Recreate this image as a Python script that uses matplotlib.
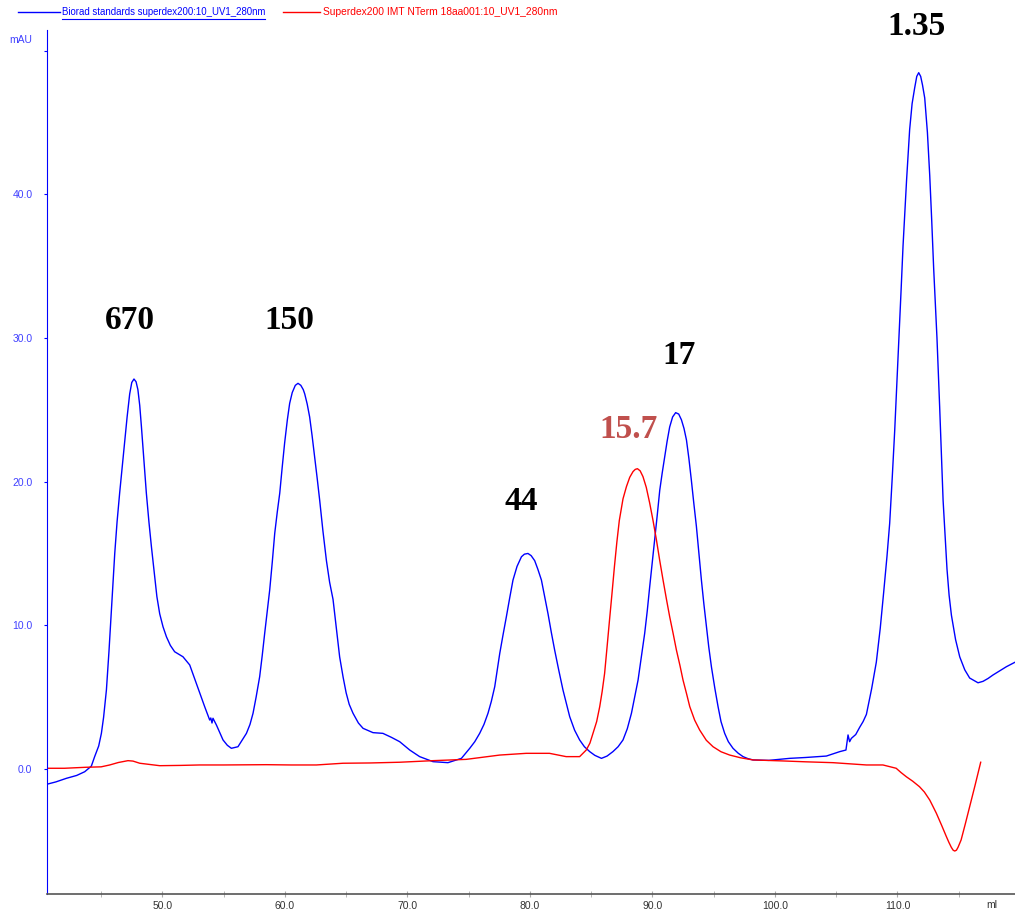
import matplotlib
matplotlib.use("Agg")
import matplotlib.pyplot as plt
from matplotlib.lines import Line2D

# Biorad standards run (blue trace), volume in ml and absorbance in mAU
blue_ml = [40.53, 41.3, 42.16, 43.0, 43.66, 44.2, 44.47, 44.8, 45.02, 45.2, 45.43, 45.64,
           45.84, 46.11, 46.3, 46.51, 46.72, 46.92, 47.12, 47.33, 47.5, 47.68, 47.85, 48.0,
           48.15, 48.29, 48.5, 48.69, 48.9, 49.10, 49.37, 49.55, 49.78, 50.05, 50.33, 50.65,
           51.0, 51.68, 52.23, 52.77, 53.45, 53.86, 53.95, 54.05, 54.13, 54.41, 54.95, 55.3,
           55.63, 56.17, 56.86, 57.15, 57.40, 57.65, 57.94, 58.15, 58.35, 58.55, 58.76, 58.97,
           59.17, 59.38, 59.58, 59.78, 59.98, 60.2, 60.39, 60.6, 60.85, 61.07, 61.3, 61.5,
           61.62, 61.82, 62.02, 62.22, 62.43, 62.64, 62.84, 63.1, 63.39, 63.65, 63.93, 64.2,
           64.47, 64.75, 65.0, 65.25, 65.56, 66.0, 66.38, 67.19, 68.0, 68.7, 69.37, 70.19,
           71.0, 72.09, 73.31, 74.41, 75.09, 75.5, 75.90, 76.25, 76.58, 76.85, 77.13, 77.54,
           77.8, 78.08, 78.35, 78.62, 78.95, 79.31, 79.55, 79.84, 80.1, 80.39, 80.65, 80.94,
           81.2, 81.48, 81.75, 82.02, 82.35, 82.7, 83.0, 83.25, 83.65, 84.06, 84.45, 84.88,
           85.3, 85.84, 86.3, 86.78, 87.2, 87.60, 87.95, 88.29, 88.55, 88.83, 89.1, 89.37,
           89.58, 89.78, 89.98, 90.19, 90.4, 90.6, 90.8, 91.0, 91.2, 91.41, 91.65, 91.9,
           92.15, 92.37, 92.58, 92.78, 92.98, 93.18, 93.38, 93.59, 93.8, 94.0, 94.2, 94.41,
           94.6, 94.82, 95.1, 95.36, 95.6, 95.90, 96.2, 96.58, 97.0, 97.40, 97.8, 98.21,
           99.5, 101.2, 102.5, 104.2, 105.3, 105.8, 105.97, 106.1, 106.24, 106.6, 106.92,
           107.2, 107.47, 107.9, 108.28, 108.6, 108.88, 109.15, 109.37, 109.58, 109.78,
           109.95, 110.13, 110.3, 110.46, 110.75, 111.0, 111.2, 111.41, 111.58, 111.74,
           111.9, 112.05, 112.23, 112.45, 112.64, 112.8, 112.96, 113.1, 113.23, 113.45,
           113.6, 113.73, 113.9, 114.05, 114.22, 114.41, 114.75, 115.09, 115.5, 115.9,
           116.58, 116.99, 117.4, 117.8, 118.9, 119.6]
blue_mau = [-1.07, -0.9, -0.65, -0.45, -0.19, 0.2, 0.86, 1.6, 2.48, 3.6, 5.5, 8.2,
            11.06, 15.0, 17.2, 19.2, 21.0, 22.7, 24.5, 26.1, 26.9, 27.14, 26.95, 26.4,
            25.3, 23.8, 21.4, 19.2, 17.2, 15.5, 13.4, 12.0, 10.8, 9.9, 9.2, 8.6,
            8.16, 7.81, 7.24, 5.96, 4.34, 3.41, 3.55, 3.2, 3.53, 3.06, 2.02, 1.65,
            1.44, 1.55, 2.48, 3.1, 3.88, 5.0, 6.42, 7.9, 9.44, 10.9, 12.46, 14.4,
            16.4, 17.9, 19.2, 21.0, 22.7, 24.3, 25.45, 26.2, 26.7, 26.84, 26.7, 26.4,
            26.1, 25.4, 24.5, 23.2, 21.7, 20.2, 18.7, 16.6, 14.5, 13.0, 11.8, 9.8,
            7.8, 6.4, 5.3, 4.5, 3.88, 3.2, 2.83, 2.53, 2.48, 2.2, 1.90, 1.32,
            0.86, 0.51, 0.44, 0.74, 1.44, 1.9, 2.48, 3.1, 3.88, 4.7, 5.73, 8.05,
            9.3, 10.6, 11.9, 13.15, 14.1, 14.77, 14.95, 15.0, 14.85, 14.5, 13.9, 13.15,
            12.0, 10.8, 9.5, 8.28, 6.9, 5.50, 4.5, 3.64, 2.7, 2.02, 1.55, 1.21,
            0.95, 0.74, 0.9, 1.21, 1.55, 2.02, 2.8, 3.88, 5.0, 6.19, 7.8, 9.44,
            11.0, 12.69, 14.3, 15.94, 17.7, 19.4, 20.6, 21.7, 22.8, 23.8, 24.5, 24.8,
            24.7, 24.3, 23.7, 22.9, 21.6, 20.1, 18.5, 16.9, 15.0, 13.15, 11.5, 9.9,
            8.5, 7.1, 5.6, 4.34, 3.3, 2.48, 1.9, 1.44, 1.1, 0.86, 0.72, 0.63,
            0.6, 0.74, 0.8, 0.90, 1.21, 1.32, 2.37, 1.9, 2.13, 2.4, 2.9,
            3.3, 3.8, 5.6, 7.44, 9.8, 12.3, 14.8, 17.1, 20.3, 23.55,
            26.7, 30.0, 33.3, 36.4, 41.0, 44.5, 46.3, 47.4, 48.2, 48.46,
            48.2, 47.6, 46.7, 44.3, 41.3, 38.2, 34.85, 32.3, 30.0, 25.2,
            21.7, 18.7, 16.1, 13.9, 12.1, 10.7, 9.0, 7.8, 6.9, 6.33,
            6.0, 6.1, 6.3, 6.54, 7.12, 7.43]

# Superdex200 IMT NTerm run (red trace)
red_ml = [40.53, 42.0, 43.77, 45.0, 45.7, 46.4, 47.19, 47.6, 48.15, 49.78, 51.5, 53.04,
          55.0, 58.49, 60.5, 62.57, 64.74, 67.0, 69.37, 72.09, 74.8, 77.54, 79.7, 81.6,
          82.96, 84.06, 84.6, 84.9, 85.15, 85.45, 85.7, 85.9, 86.1, 86.3, 86.5, 86.7,
          86.9, 87.1, 87.3, 87.6, 87.88, 88.15, 88.42, 88.6, 88.78, 89.0, 89.23, 89.5,
          89.78, 90.05, 90.33, 90.6, 90.87, 91.15, 91.41, 91.7, 91.96, 92.25, 92.5, 92.8,
          93.05, 93.45, 93.86, 94.4, 94.95, 95.6, 96.31, 97.2, 98.21, 100.66, 102.5,
          104.74, 107.47, 108.82, 109.9, 110.3, 110.73, 111.25, 111.8, 112.2, 112.64,
          112.9, 113.18, 113.6, 114.0, 114.2, 114.4, 114.55, 114.68, 114.82, 114.95,
          115.2, 115.55, 115.9, 116.35, 116.8]
red_mau = [0.05, 0.05, 0.12, 0.15, 0.28, 0.45, 0.58, 0.55, 0.40, 0.23, 0.25, 0.28,
           0.28, 0.30, 0.28, 0.28, 0.40, 0.42, 0.47, 0.58, 0.67, 0.97, 1.09, 1.09,
           0.86, 0.86, 1.32, 1.8, 2.48, 3.3, 4.34, 5.4, 6.66, 8.5, 10.37, 12.2,
           14.08, 15.8, 17.3, 18.8, 19.65, 20.3, 20.7, 20.85, 20.9, 20.75, 20.35, 19.6,
           18.5, 17.3, 15.94, 14.5, 13.15, 11.8, 10.6, 9.4, 8.28, 7.2, 6.19, 5.2,
           4.34, 3.4, 2.71, 2.0, 1.55, 1.2, 0.97, 0.78, 0.63, 0.56, 0.5,
           0.44, 0.28, 0.28, 0.05, -0.25, -0.54, -0.85, -1.23, -1.6, -2.16,
           -2.6, -3.08, -3.9, -4.71, -5.1, -5.45, -5.65, -5.71, -5.65, -5.45,
           -4.94, -3.8, -2.62, -1.1, 0.47]

# peak annotations (molecular weight, kDa)
peak_labels = ["670", "150", "44", "17", "15.7", "1.35"]
peak_label_ml = [47.34, 60.4, 79.27, 92.15, 88.07, 111.6]
peak_label_mau = [31.2, 31.2, 18.6, 28.8, 23.6, 51.7]
peak_label_colors = ["black", "black", "black", "black", "#c0504d", "black"]

x_ticks = [50, 60, 70, 80, 90, 100, 110]
y_ticks = [0, 10, 20, 30, 40, 50]
y_tick_labels = ["0.0", "10.0", "20.0", "30.0", "40.0", ""]

fig = plt.figure(figsize=(10.15, 9.13), dpi=100)
ax = fig.add_axes([47 / 1015, 19 / 913, 968 / 1015, 864 / 913])

ax.plot(blue_ml, blue_mau, color="#0000ff", lw=1.0)
ax.plot(red_ml, red_mau, color="#ff0000", lw=1.0)

ax.set_xlim(40.58, 119.6)
ax.set_ylim(-8.7, 51.43)

for spine in ("top", "right"):
    ax.spines[spine].set_visible(False)
ax.spines["left"].set_color("#0000ff")
ax.spines["bottom"].set_color("#555555")
ax.spines["bottom"].set_linewidth(1.2)

ax.set_xticks(x_ticks)
ax.set_xticklabels([f"{v:.1f}" for v in x_ticks])
ax.set_xticks([45, 55, 65, 75, 85, 95, 105, 115], minor=True)
ax.set_yticks(y_ticks)
ax.set_yticklabels(y_tick_labels)

ax.tick_params(axis="x", which="both", direction="inout", length=4, color="#aaaaaa",
               labelsize=7.5, labelcolor="#333333", pad=3)
ax.tick_params(axis="y", direction="out", length=2.5, color="#0000ff",
               labelsize=7.5, labelcolor="#4040ff", pad=8)
for lab in ax.get_xticklabels() + ax.get_yticklabels():
    lab.set_fontfamily("Liberation Sans")

for txt, xm, ym, c in zip(peak_labels, peak_label_ml, peak_label_mau, peak_label_colors):
    ax.text(xm, ym, txt, color=c, fontsize=24, fontweight="bold",
            fontfamily="Liberation Serif", ha="center", va="center", clip_on=False)

# axis unit labels
fig.text(21 / 1015, 1 - 40 / 913, "mAU", color="#4040ff", fontsize=7.5,
         fontfamily="Liberation Sans", ha="center", va="center")
fig.text(992 / 1015, 1 - 905 / 913, "ml", color="#333333", fontsize=7.5,
         fontfamily="Liberation Sans", ha="center", va="center")

# legend across the top
ly = 1 - 12 / 913
fig.add_artist(Line2D([18 / 1015, 60 / 1015], [ly, ly], color="#0000ff", lw=1))
fig.text(62 / 1015, ly, "Biorad standards superdex200:10_UV1_280nm", color="#0000ff",
         fontsize=6.95, fontfamily="Liberation Sans", ha="left", va="center")
fig.add_artist(Line2D([62 / 1015, 265 / 1015], [1 - 19 / 913, 1 - 19 / 913],
                      color="#0000ff", lw=0.8))
fig.add_artist(Line2D([283 / 1015, 320 / 1015], [ly, ly], color="#ff0000", lw=1))
fig.text(323 / 1015, ly, "Superdex200 IMT NTerm 18aa001:10_UV1_280nm", color="#ff0000",
         fontsize=7.35, fontfamily="Liberation Sans", ha="left", va="center")

fig.savefig("out.png", dpi=100)
